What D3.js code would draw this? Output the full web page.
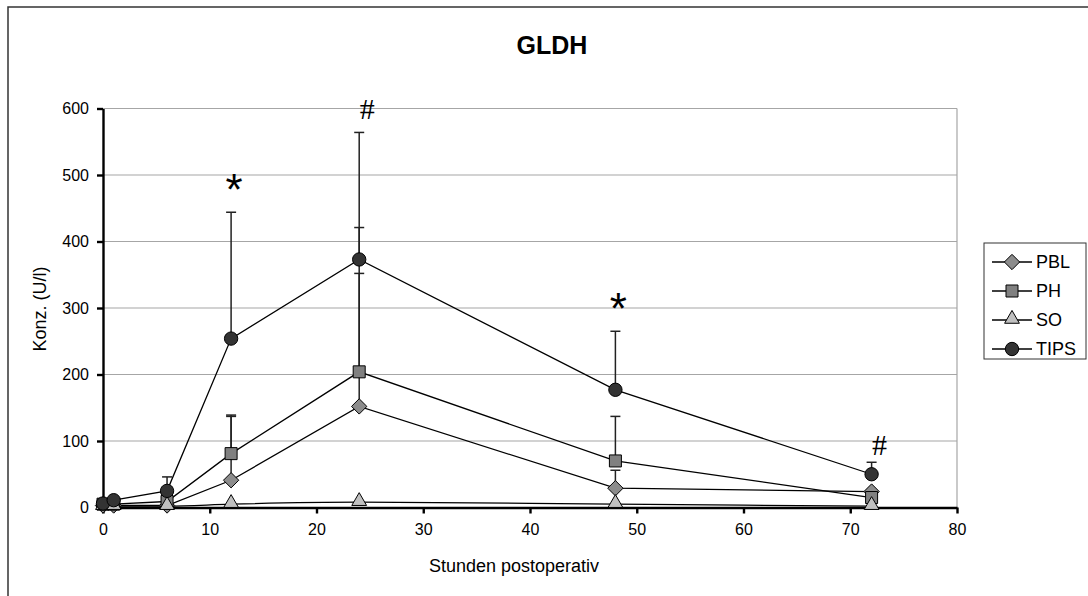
<!DOCTYPE html>
<html lang="de">
<head>
<meta charset="UTF-8">
<title>GLDH</title>
<script src="https://d3js.org/d3.v7.min.js"></script>
<style>
    body { margin: 0; background: #fff; }
    text { font-family: "Liberation Sans", Arial, sans-serif; }
    .grid line { stroke: #a6a6a6; stroke-width: 1.2px; }
    .axis path, .axis line { stroke: #000; stroke-width: 2.4px; }
    .axis text { font-size: 16px; fill: #000; }
</style>
</head>
<body>
<svg width="1088" height="596"></svg>
<script>
    // Zeitpunkte (Stunden postoperativ)
    const hours = [0, 1, 6, 12, 24, 48, 72];

    // Mittelwerte je Gruppe (U/l)
    const pbl  = [3, 3, 3, 41, 152, 29, 24];
    const ph   = [5, 5, 9, 81, 204, 70, 15];
    const so   = [2, 2, 2, 5, 8, 5, 2];
    const tips = [6, 11, 25, 254, 373, 177, 50];

    // obere Fehlerbalken (Mittelwert + SD), null = keiner sichtbar
    const pblErr  = [null, null, null, 137, 352, 56, null];
    const phErr   = [null, null, null, 139, 421, 137, null];
    const soErr   = [null, null, null, null, null, null, null];
    const tipsErr = [null, null, 46, 444, 564, 265, 68];

    // Signifikanzzeichen
    const markHours  = [12, 24, 48, 72];
    const markValues = [493, 600, 313, 95];
    const markSymbols = ["*", "#", "*", "#"];

    const xTicks = [0, 10, 20, 30, 40, 50, 60, 70, 80];
    const yTicks = [0, 100, 200, 300, 400, 500, 600];

    const series = [
        {name: "PBL",  values: pbl,  err: pblErr,  shape: "diamond",  fill: "#8c8c8c"},
        {name: "PH",   values: ph,   err: phErr,   shape: "square",   fill: "#808080"},
        {name: "SO",   values: so,   err: soErr,   shape: "triangle", fill: "#c0c0c0"},
        {name: "TIPS", values: tips, err: tipsErr, shape: "circle",   fill: "#333333"}
    ];

    const svg = d3.select("svg");

    // Rahmen um das Diagramm
    svg.append("rect")
        .attr("x", 8).attr("y", 7)
        .attr("width", 1200).attr("height", 700)
        .attr("fill", "none").attr("stroke", "#333").attr("stroke-width", 1.5);

    const plotLeft = 103, plotRight = 957, plotTop = 108.5, plotBottom = 507.5;

    const x = d3.scaleLinear().domain([0, 80]).range([plotLeft, plotRight]);
    const y = d3.scaleLinear().domain([0, 600]).range([plotBottom, plotTop]);

    // Gitterlinien
    svg.append("g").attr("class", "grid")
        .selectAll("line")
        .data(yTicks.filter(d => d > 0))
        .enter().append("line")
        .attr("x1", plotLeft).attr("x2", plotRight)
        .attr("y1", d => y(d)).attr("y2", d => y(d));

    svg.append("line")
        .attr("x1", plotRight).attr("x2", plotRight)
        .attr("y1", plotTop).attr("y2", plotBottom)
        .attr("stroke", "#a6a6a6").attr("stroke-width", 1.2);

    // Achsen
    svg.append("g").attr("class", "axis")
        .attr("transform", `translate(0,${plotBottom})`)
        .call(d3.axisBottom(x).tickValues(xTicks).tickSize(6).tickSizeOuter(0).tickPadding(10));

    svg.append("g").attr("class", "axis")
        .attr("transform", `translate(${plotLeft},0)`)
        .call(d3.axisLeft(y).tickValues(yTicks).tickSize(6).tickSizeOuter(0).tickPadding(8));

    // Fehlerbalken
    const errG = svg.append("g");
    series.forEach(s => {
        s.err.forEach((e, i) => {
            if (e === null) return;
            const cx = x(hours[i]);
            errG.append("line")
                .attr("x1", cx).attr("x2", cx)
                .attr("y1", y(s.values[i])).attr("y2", y(e))
                .attr("stroke", "#222").attr("stroke-width", 1.5);
            errG.append("line")
                .attr("x1", cx - 5).attr("x2", cx + 5)
                .attr("y1", y(e)).attr("y2", y(e))
                .attr("stroke", "#222").attr("stroke-width", 1.5);
        });
    });

    // Linien
    series.forEach(s => {
        const line = d3.line()
            .x((d, i) => x(hours[i]))
            .y(d => y(d))
            .curve(s.name === "SO" ? d3.curveMonotoneX : d3.curveLinear);
        svg.append("path")
            .datum(s.values)
            .attr("fill", "none")
            .attr("stroke", "#000")
            .attr("stroke-width", 1.3)
            .attr("d", line);
    });

    const symbolType = {
        diamond: d3.symbolDiamond2,
        square: d3.symbolSquare,
        triangle: d3.symbolTriangle,
        circle: d3.symbolCircle
    };
    const symbolSize = {diamond: 150, square: 144, triangle: 95, circle: 140};

    function symbolPath(shape) {
        return d3.symbol().type(symbolType[shape]).size(symbolSize[shape])();
    }

    // Marker
    series.forEach(s => {
        svg.append("g")
            .selectAll("path")
            .data(s.values)
            .enter().append("path")
            .attr("d", symbolPath(s.shape))
            .attr("transform", (d, i) => `translate(${x(hours[i])},${y(d) + (s.shape === "triangle" ? -1 : 0)})`)
            .attr("fill", s.fill)
            .attr("stroke", "#000")
            .attr("stroke-width", 1);
    });

    // Signifikanzzeichen
    markHours.forEach((h, i) => {
        const sym = markSymbols[i];
        svg.append("text")
            .attr("x", x(h) + (sym === "#" ? 8 : 3))
            .attr("y", y(markValues[i]))
            .attr("dy", sym === "*" ? "0.57em" : "0.35em")
            .attr("text-anchor", "middle")
            .style("font-family", sym === "*" ? "'Liberation Sans', Arial, sans-serif" : "'Liberation Serif', 'Times New Roman', serif")
            .style("font-size", sym === "*" ? "44px" : "30px")
            .text(sym);
    });

    // Titel und Achsentitel
    svg.append("text")
        .attr("x", 552).attr("y", 54)
        .attr("text-anchor", "middle")
        .style("font-size", "25px").style("font-weight", "bold")
        .text("GLDH");

    svg.append("text")
        .attr("x", 514).attr("y", 572)
        .attr("text-anchor", "middle")
        .style("font-size", "18px")
        .text("Stunden postoperativ");

    svg.append("text")
        .attr("transform", "translate(46,309) rotate(-90)")
        .attr("text-anchor", "middle")
        .style("font-size", "18px")
        .text("Konz. (U/l)");

    // Legende
    const legend = svg.append("g");
    legend.append("rect")
        .attr("x", 984).attr("y", 243)
        .attr("width", 102).attr("height", 116)
        .attr("fill", "#fff").attr("stroke", "#333").attr("stroke-width", 1);

    series.forEach((s, i) => {
        const ly = 262 + i * 29;
        legend.append("line")
            .attr("x1", 992).attr("x2", 1032)
            .attr("y1", ly).attr("y2", ly)
            .attr("stroke", "#000").attr("stroke-width", 1.3);
        legend.append("path")
            .attr("d", symbolPath(s.shape))
            .attr("transform", `translate(1012,${ly + (s.shape === "triangle" ? -1 : 0)})`)
            .attr("fill", s.fill).attr("stroke", "#000").attr("stroke-width", 1);
        legend.append("text")
            .attr("x", 1036).attr("y", ly)
            .attr("dy", "0.35em")
            .style("font-size", "18px")
            .text(s.name);
    });
</script>
</body>
</html>
